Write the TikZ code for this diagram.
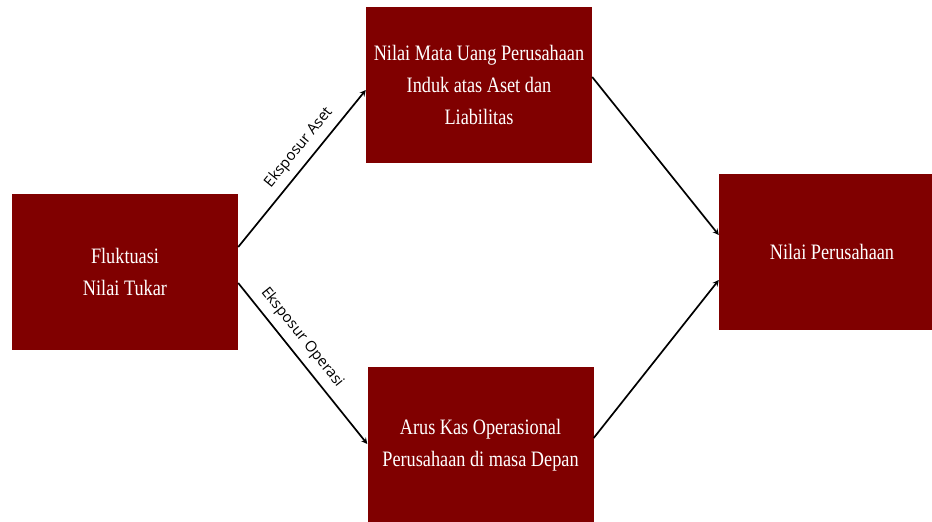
\documentclass[tikz,border=0pt]{standalone}
\usepackage{fontspec}
\setmainfont{Liberation Serif}
\newfontfamily\boxfont[FakeStretch=0.83]{Liberation Serif}
\newfontfamily\expfont{Open Sans}
\usepackage{tikz}
\usetikzlibrary{arrows,positioning}
\definecolor{nvmaroon}{RGB}{128,0,0}
\tikzstyle{factor} = [rectangle, minimum width=226pt, minimum height=156pt, text centered, align=center, fill=nvmaroon, text=white, inner sep=0pt, font=\boxfont\fontsize{22}{32}\selectfont]
\tikzstyle{arrow} = [line width=1.7pt,->,>=stealth,color=black]
\tikzstyle{exposure} = [sloped, above=4pt, font=\expfont\fontsize{15}{17}\selectfont]

\begin{document}
\begin{tikzpicture}[x=1pt, y=-1pt]
\clip (0,0) rectangle (932,522);
\node (fluktuasi) [factor] at (125,272) {Fluktuasi\\Nilai Tukar};
\node (matauang) [factor] at (479,85) {Nilai Mata Uang Perusahaan\\Induk atas Aset dan\\Liabilitas};
\node (aruskas) [factor] at (480.5,445) {Arus Kas Operasional\\Perusahaan di masa Depan};
\node (nilai) [factor] at (832,251.5) {Nilai Perusahaan};

\draw[arrow] ([yshift=25pt]fluktuasi.east) -- node[exposure, pos=0.57] {Eksposur Aset} ([yshift=-5pt]matauang.west);
\draw[arrow] ([yshift=-11pt]fluktuasi.east) -- node[exposure, pos=0.4] {Eksposur Operasi} ([yshift=1pt]aruskas.west);
\draw[arrow] ([yshift=8pt]matauang.east) -- ([yshift=16.5pt]nilai.west);
\draw[arrow] ([yshift=7pt]aruskas.east) -- ([yshift=-28.5pt]nilai.west);
\end{tikzpicture}
\end{document}
